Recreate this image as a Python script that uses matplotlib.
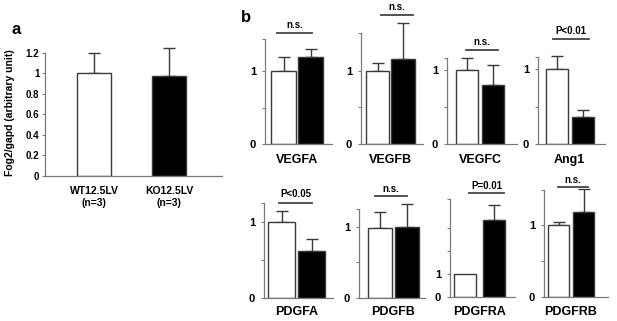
import matplotlib
matplotlib.use("Agg")
import matplotlib.pyplot as plt

plt.rcParams['font.family'] = ['Liberation Sans', 'DejaVu Sans']

# ---------------- data ----------------
a_groups = ["WT12.5LV\n(n=3)", "KO12.5LV\n(n=3)"]
a_means = [1.0, 0.98]
a_errs = [0.20, 0.27]
a_yticks = [0, 0.2, 0.4, 0.6, 0.8, 1.0, 1.2]
a_yticklabels = ["0", "0.2", "0.4", "0.6", "0.8", "1", "1.2"]

genes = ["VEGFA", "VEGFB", "VEGFC", "Ang1", "PDGFA", "PDGFB", "PDGFRA", "PDGFRB"]
wt_means = [1.0, 1.0, 1.0, 1.0, 1.0, 0.99, 1.0, 1.0]
wt_errs = [0.19, 0.11, 0.16, 0.17, 0.14, 0.22, 0.0, 0.04]
ko_means = [1.19, 1.16, 0.80, 0.36, 0.62, 1.0, 3.35, 1.18]
ko_errs = [0.11, 0.50, 0.27, 0.10, 0.16, 0.32, 0.65, 0.32]
sig_labels = ["n.s.", "n.s.", "n.s.", "P<0.01", "P<0.05", "n.s.", "P=0.01", "n.s."]
y_tops = [1.44, 1.52, 1.16, 1.16, 1.25, 1.25, 4.26, 1.49]

# ---------------- layout (pixels) ----------------
W, H = 617, 321
# (left, right, bottom, top, white centre, black centre, bar width)
boxes = [
    (265, 332, 144, 39, 283.5, 310.5, 25),
    (361, 423, 144, 33, 377.5, 403.0, 23.5),
    (447, 517, 144, 58, 467.0, 493.0, 22),
    (538, 605, 144, 57, 557.0, 582.5, 22),
    (264, 333, 298, 203, 281.5, 311.5, 27),
    (359, 425, 298, 209, 379.5, 406.5, 24),
    (450, 515, 297, 199, 465.0, 493.5, 22),
    (544, 608, 297, 190, 558.5, 583.5, 21),
]
# significance line (x0, x1, y) and text y, in pixels
sig_pos = [
    (277, 312, 33, 25), (381, 413, 15, 7), (466, 498, 50, 42), (553, 589, 39, 31),
    (279, 312, 203, 194), (375, 407, 196, 189), (469, 504, 193, 186), (558, 588, 187, 180),
]
label_y = [160, 160, 160, 160, 312, 312, 312, 312]

fig = plt.figure(figsize=(W / 100, H / 100), dpi=100)


def fx(x):
    return x / W


def fy(y):
    return 1 - y / H


spine_col = '#7a7a7a'
edge_col = '#3a3a3a'

# ---------------- panel a ----------------
L, R, B, T = 45, 222, 176, 53
axa = fig.add_axes([fx(L), fy(B), (R - L) / W, (B - T) / H])
c0, c1, bw = 94, 169, 34
unit = c1 - c0
axa.set_xlim((L - c0) / unit, (R - c0) / unit)
axa.set_ylim(0, 1.2)
cols = ['white', 'black']
for i in range(2):
    axa.bar(i, a_means[i], width=bw / unit, color=cols[i], edgecolor=edge_col, linewidth=1.0, zorder=2)
    axa.errorbar(i, a_means[i], yerr=[[0], [a_errs[i]]], fmt='none', ecolor=edge_col,
                 elinewidth=1.0, capsize=4, capthick=1.0, zorder=1, clip_on=False)
axa.set_yticks(a_yticks)
axa.set_yticklabels(a_yticklabels, fontsize=7, fontweight='bold')
axa.set_xticks([])
for s in ['top', 'right']:
    axa.spines[s].set_visible(False)
for s in ['left', 'bottom']:
    axa.spines[s].set_color(spine_col)
    axa.spines[s].set_linewidth(0.9)
axa.tick_params(axis='y', length=2.5, width=0.8, color=spine_col, pad=1.5)
for i in range(2):
    fig.text(fx(c0 + i * unit), fy(197), a_groups[i], ha='center', va='center',
             fontsize=7.5, fontweight='bold', linespacing=1.25)
fig.text(fx(10), fy(113), "Fog2/gapd (arbitrary unit)", rotation=90, ha='center',
         va='center', fontsize=7.5, fontweight='bold')
fig.text(fx(16), fy(29), "a", ha='center', va='center', fontsize=12, fontweight='bold')
fig.text(fx(246), fy(17), "b", ha='center', va='center', fontsize=12, fontweight='bold')

# ---------------- panel b ----------------
for k, g in enumerate(genes):
    L, R, B, T, c0, c1, bw = boxes[k]
    ax = fig.add_axes([fx(L), fy(B), (R - L) / W, (B - T) / H])
    unit = c1 - c0
    ax.set_xlim((L - c0) / unit, (R - c0) / unit)
    ytop = y_tops[k]
    ax.set_ylim(0, ytop)
    means = [wt_means[k], ko_means[k]]
    errs = [wt_errs[k], ko_errs[k]]
    for i in range(2):
        ax.bar(i, means[i], width=bw / unit, color=cols[i], edgecolor=edge_col,
               linewidth=1.0, zorder=2)
        if errs[i] > 0:
            ax.errorbar(i, means[i], yerr=[[0], [errs[i]]], fmt='none', ecolor=edge_col,
                        elinewidth=1.0, capsize=4, capthick=1.0, zorder=1, clip_on=False)
    if ytop > 2:
        ticks = [0, 1, 2, 3, ytop]
    else:
        ticks = [0, 0.5, 1, ytop]
    ax.set_yticks(ticks)
    ax.set_yticklabels(["0" if t == 0 else ("1" if t == 1 else "") for t in ticks],
                       fontsize=8, fontweight='bold')
    ax.set_xticks([])
    for s in ['top', 'right']:
        ax.spines[s].set_visible(False)
    for s in ['left', 'bottom']:
        ax.spines[s].set_color(spine_col)
        ax.spines[s].set_linewidth(0.9)
    ax.tick_params(axis='y', length=2.5, width=0.8, color=spine_col, pad=4)
    # gene label
    fig.text(fx((c0 + c1) / 2), fy(label_y[k]), g, ha='center', va='center',
             fontsize=9, fontweight='bold')
    # significance
    x0, x1, ly, ty = sig_pos[k]
    fig.add_artist(plt.Line2D([fx(x0), fx(x1)], [fy(ly), fy(ly)], color='#444444', lw=1.3))
    fig.text(fx((x0 + x1) / 2), fy(ty), sig_labels[k], ha='center', va='center',
             fontsize=7, fontweight='bold')

fig.savefig("out.png", dpi=100)
